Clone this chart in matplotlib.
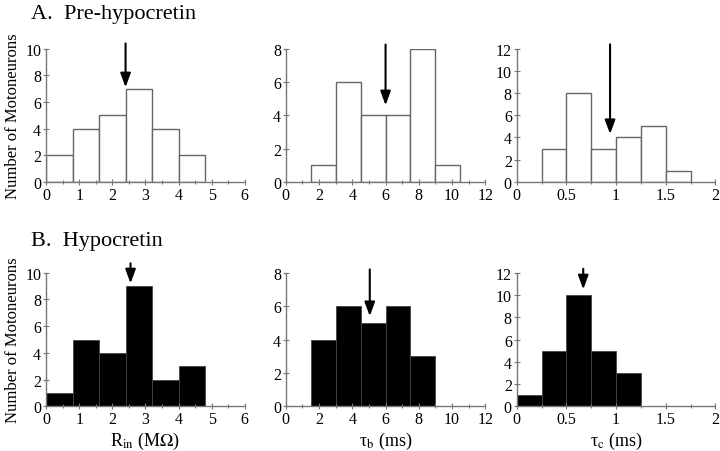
import matplotlib.pyplot as plt
import numpy as np

plt.rcParams['font.family'] = ['Liberation Serif', 'DejaVu Serif']
plt.rcParams['mathtext.fontset'] = 'stix'

# bin left edges / widths and counts, per panel
rin_edges = [0, 0.8, 1.6, 2.4, 3.2, 4.0]
rin_pre = [2, 4, 5, 7, 4, 2]
rin_hcrt = [1, 5, 4, 9, 2, 3]

taub_edges_pre = [1.5, 3.0, 4.5, 6.0, 7.5, 9.0]
taub_pre = [1, 6, 4, 4, 8, 1]
taub_edges_hcrt = [1.5, 3.0, 4.5, 6.0, 7.5]
taub_hcrt = [4, 6, 5, 6, 3]

tauc_edges_pre = [0.25, 0.5, 0.75, 1.0, 1.25, 1.5]
tauc_pre = [3, 8, 3, 4, 5, 1]
tauc_edges_hcrt = [0.0, 0.25, 0.5, 0.75, 1.0]
tauc_hcrt = [1, 5, 10, 5, 3]

# mean arrows: x, y_top, y_tip
arrows_pre = [(2.4, 10.4, 7.1), (6.0, 8.25, 4.6), (0.94, 12.4, 4.3)]
arrows_hcrt = [(2.55, 10.7, 9.2), (5.05, 8.2, 5.4), (0.67, 12.35, 10.5)]

xlims = [(0, 6), (0, 12), (0, 2)]
xticks = [[0, 1, 2, 3, 4, 5, 6], [0, 2, 4, 6, 8, 10, 12], [0, 0.5, 1, 1.5, 2]]
xticklabels = [['0', '1', '2', '3', '4', '5', '6'],
               ['0', '2', '4', '6', '8', '10', '12'],
               ['0', '0.5', '1', '1.5', '2']]
xminor = [0.5, 1, 0.25]
ylims_pre = [10, 8, 12]
ylims_hcrt = [10, 8, 12]
widths = [0.8, 1.5, 0.25]
xlabels = [r'R$_{\rm in}$ (M$\Omega$)', 'τ$_{\\rm b}$ (ms)', 'τ$_{\\rm c}$ (ms)']

fig = plt.figure(figsize=(7.2, 4.52), dpi=100)
lefts = [0.064, 0.397, 0.7176]
w = [0.276, 0.277, 0.276]
rows = [(0.5955, 0.2945), (0.0985, 0.296)]

data = [
    [(rin_edges, rin_pre), (taub_edges_pre, taub_pre), (tauc_edges_pre, tauc_pre)],
    [(rin_edges, rin_hcrt), (taub_edges_hcrt, taub_hcrt), (tauc_edges_hcrt, tauc_hcrt)],
]
arrows = [arrows_pre, arrows_hcrt]
ylims = [ylims_pre, ylims_hcrt]
spine_col = '#777777'

for r in range(2):
    for c in range(3):
        ax = fig.add_axes([lefts[c], rows[r][0], w[c], rows[r][1]])
        edges, counts = data[r][c]
        if r == 0:
            ax.bar(edges, counts, width=widths[c], align='edge', color='white',
                   edgecolor='#666666', linewidth=1.0)
        else:
            ax.bar(edges, counts, width=widths[c], align='edge', color='black',
                   edgecolor='#444444', linewidth=0.6)
        ax.set_xlim(*xlims[c])
        ax.set_ylim(0, ylims[r][c])
        ax.set_xticks(xticks[c])
        ax.set_xticklabels(xticklabels[c])
        ax.set_xticks(np.arange(xlims[c][0] + xminor[c], xlims[c][1], xminor[c] * 2), minor=True)
        ax.set_yticks(np.arange(0, ylims[r][c] + 1, 2))
        for s in ['top', 'right']:
            ax.spines[s].set_visible(False)
        for s in ['left', 'bottom']:
            ax.spines[s].set_color(spine_col)
            ax.spines[s].set_linewidth(1.0)
        ax.tick_params(which='major', direction='inout', length=5, width=0.8,
                       color=spine_col, labelsize=11.5, pad=1)
        ax.tick_params(which='minor', direction='inout', length=3, width=0.8,
                       color=spine_col)
        ax.tick_params(axis='y', which='minor', left=False)
        ax.patch.set_alpha(0)
        for (x, ytop, ytip) in [arrows[r][c]]:
            ax.annotate('', xy=(x, ytip), xytext=(x, ytop),
                        arrowprops=dict(arrowstyle='-|>,head_length=0.6,head_width=0.22',
                                        color='black', lw=1.5,
                                        mutation_scale=14, shrinkA=0, shrinkB=0),
                        annotation_clip=False)
        if c == 0:
            ax.set_ylabel('Number of Motoneurons', fontsize=12, labelpad=3)
        if r == 1:
            ax.set_xlabel(xlabels[c], fontsize=13, labelpad=2)

fig.text(0.043, 0.957, 'A.  Pre-hypocretin', fontsize=16, va='baseline')
fig.text(0.043, 0.455, 'B.  Hypocretin', fontsize=16, va='baseline')

plt.savefig('out.png', dpi=100)
